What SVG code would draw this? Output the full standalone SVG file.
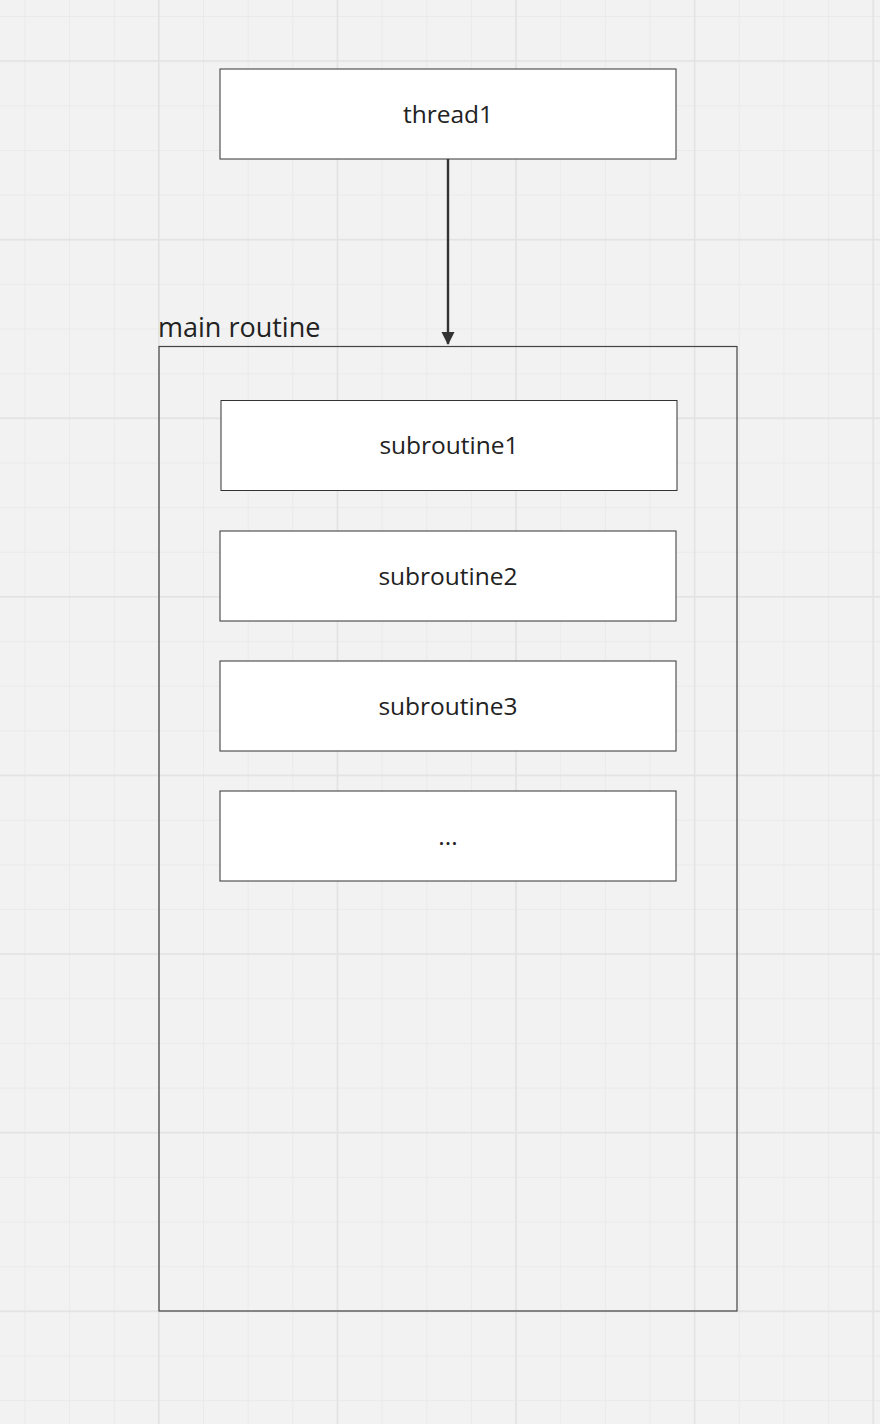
<svg xmlns="http://www.w3.org/2000/svg" width="880" height="1424" viewBox="0 0 880 1424">
<defs>
<pattern id="minor" x="24.4" y="16" width="44.65" height="44.65" patternUnits="userSpaceOnUse">
<path d="M0.5 0V44.65M0 0.5H44.65" stroke="#eaeaea" stroke-width="1" fill="none"/>
</pattern>
<pattern id="major" x="158" y="60.2" width="178.6" height="178.6" patternUnits="userSpaceOnUse">
<path d="M0.75 0V178.6M0 0.75H178.6" stroke="#e2e2e2" stroke-width="1.5" fill="none"/>
</pattern>
<marker id="arrow" markerWidth="14" markerHeight="14" refX="12" refY="7" orient="auto" markerUnits="userSpaceOnUse">
<path d="M0 0.5L13 7L0 13.5Z" fill="#333"/>
</marker>
</defs>
<style>
.box{fill:#fff;stroke:#333;stroke-width:1}
.lbl{font-family:"Open Sans","Noto Sans",sans-serif;font-size:24.5px;fill:#222;text-anchor:middle;dominant-baseline:central}
.title{font-family:"Open Sans","Noto Sans",sans-serif;font-size:27px;fill:#222}
</style>
<rect width="880" height="1424" fill="#f2f2f2"/>
<rect width="880" height="1424" fill="url(#minor)"/>
<rect width="880" height="1424" fill="url(#major)"/>
<g id="main-routine">
<rect x="159" y="346.5" width="578" height="964.5" fill="none" stroke="#444" stroke-width="1.2"/>
<text class="title" x="158" y="337">main routine</text>
</g>
<g id="thread1">
<rect class="box" x="220" y="69" width="456" height="90"/>
<text class="lbl" x="448" y="113">thread1</text>
</g>
<g id="subroutine1">
<rect class="box" x="221" y="400.5" width="456" height="90"/>
<text class="lbl" x="449" y="444">subroutine1</text>
</g>
<g id="subroutine2">
<rect class="box" x="220" y="531" width="456" height="90"/>
<text class="lbl" x="448" y="575">subroutine2</text>
</g>
<g id="subroutine3">
<rect class="box" x="220" y="661" width="456" height="90"/>
<text class="lbl" x="448" y="705">subroutine3</text>
</g>
<g id="more">
<rect class="box" x="220" y="791" width="456" height="90"/>
<text class="lbl" x="448" y="835">...</text>
</g>
<g id="connectors">
<line x1="448" y1="159" x2="448" y2="344" stroke="#333" stroke-width="2.4" marker-end="url(#arrow)"/>
</g>
</svg>
